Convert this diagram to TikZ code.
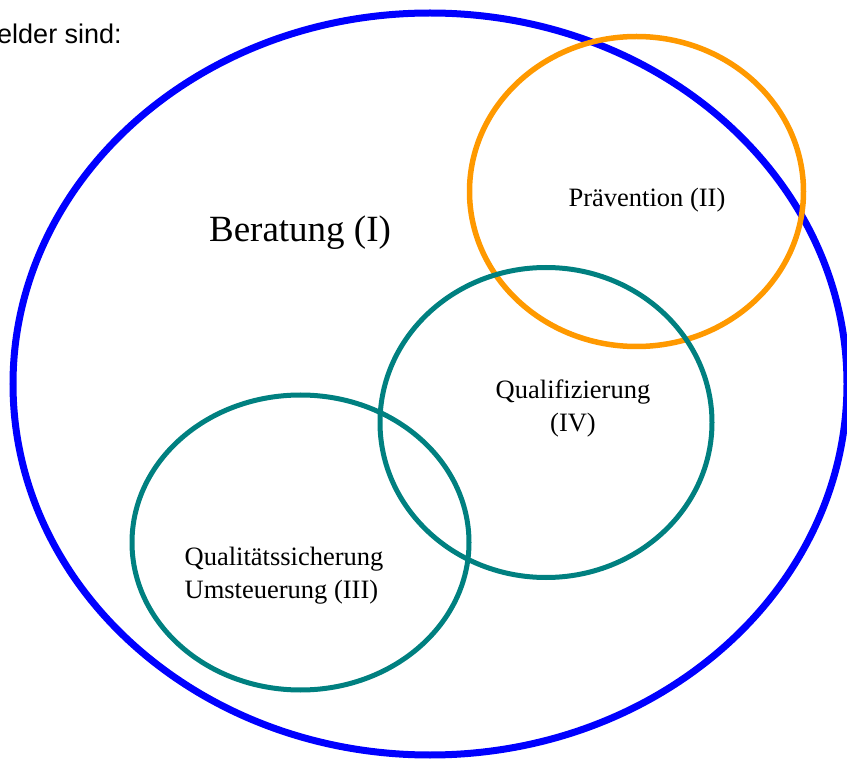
\documentclass[tikz,border=0pt]{standalone}
\usepackage{fontspec}
\setmainfont{Liberation Serif}
\newfontfamily\arialfont{Liberation Sans}
\definecolor{ringblue}{HTML}{0000FF}
\definecolor{ringorange}{HTML}{FF9900}
\definecolor{ringteal}{HTML}{008080}
\begin{document}
\begin{tikzpicture}[x=1pt,y=-1pt,
  ring/.style={line width=#1},
  lbl/.style={inner sep=0pt, font=\fontsize{26.5}{33}\selectfont, align=center},
  big/.style={inner sep=0pt, font=\fontsize{37}{40}\selectfont}]
\useasboundingbox (0,0) rectangle (847,759);
\draw[ringblue, ring=7] (430,384) ellipse [x radius=417, y radius=371];
\draw[ringorange, ring=5.5] (636.5,191.5) ellipse [x radius=167, y radius=155];
\draw[ringteal, ring=5] (546,422.5) ellipse [x radius=166, y radius=155];
\draw[ringteal, ring=5] (300.5,542.5) ellipse [x radius=168.5, y radius=147.5];
\node[anchor=east, inner sep=0pt, font=\arialfont\fontsize{27}{30}\selectfont] (intro) at (122,34) {Felder sind:};
\node[big] (beratung) at (300,233) {Beratung (I)};
\node[lbl] (praevention) at (647,200) {Prävention (II)};
\node[lbl] (qualifizierung) at (573,408) {Qualifizierung\\(IV)};
\node[lbl, align=left] (qualitaet) at (284,576) {Qualitätssicherung\\Umsteuerung (III)};
\end{tikzpicture}
\end{document}
